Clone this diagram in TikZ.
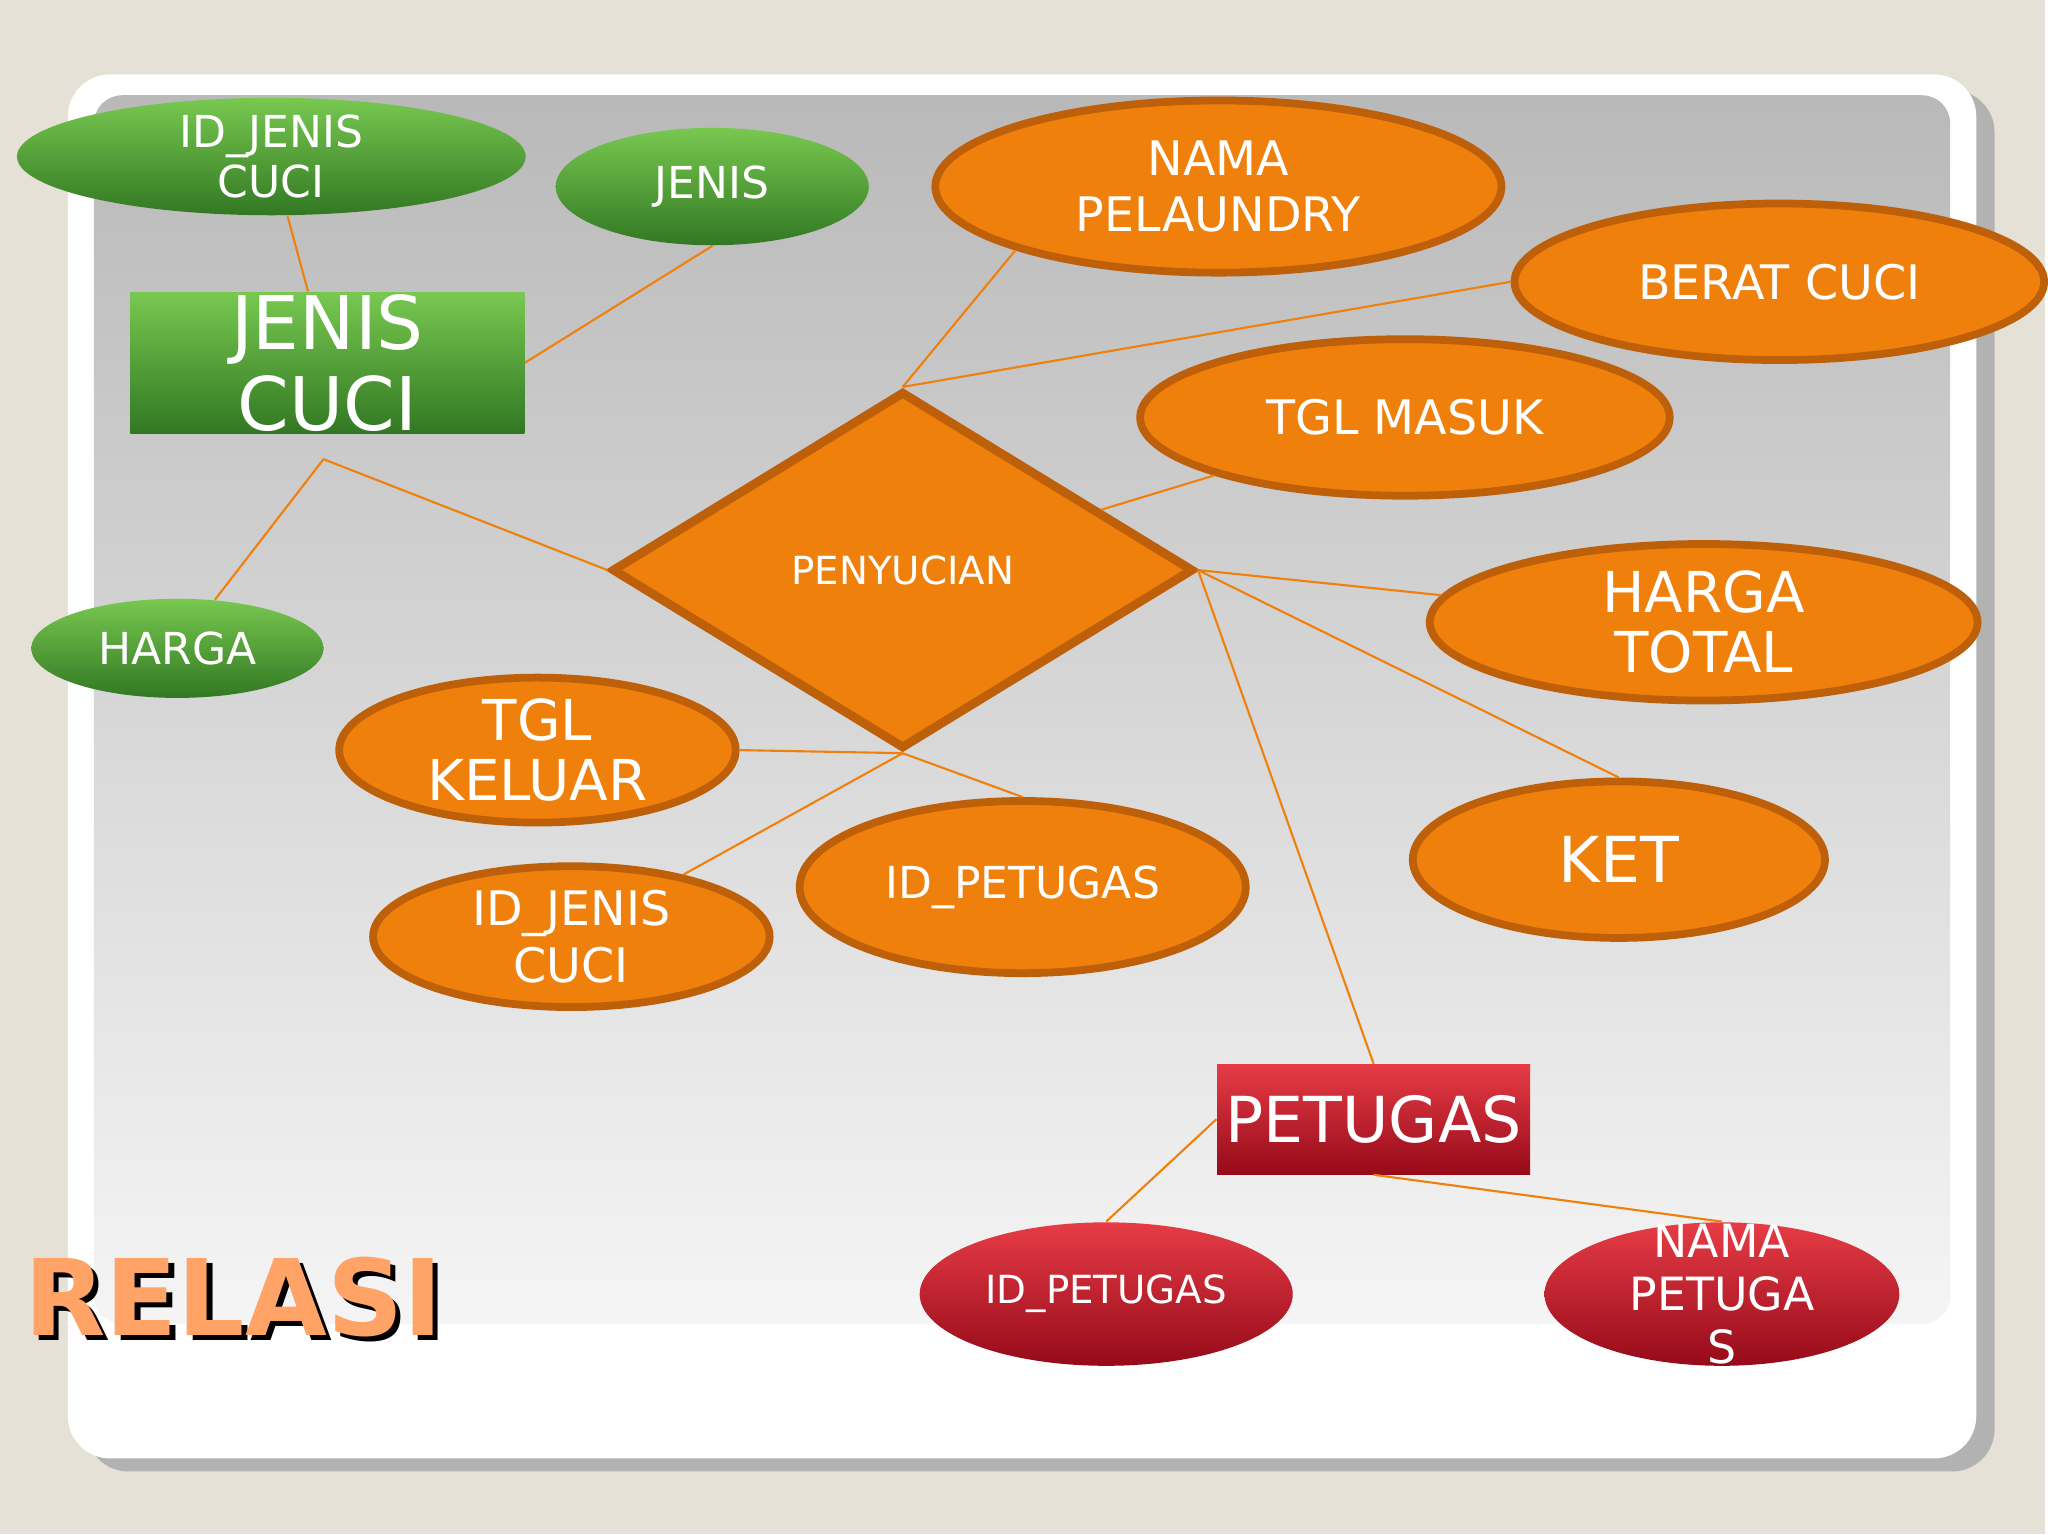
\documentclass[tikz,border=0pt]{standalone}
\usepackage{fontspec}
\setmainfont{DejaVu Sans}
\usetikzlibrary{shapes.geometric,positioning}
\definecolor{bgbeige}{RGB}{229,225,214}
\definecolor{erorange}{RGB}{240,128,12}
\definecolor{erorangedk}{RGB}{190,95,10}
\definecolor{ergreen}{RGB}{80,160,50}
\definecolor{ergreenlt}{RGB}{120,200,80}
\definecolor{ergreendk}{RGB}{50,120,35}
\definecolor{erred}{RGB}{200,20,40}
\definecolor{erredlt}{RGB}{230,60,70}
\definecolor{erreddk}{RGB}{150,10,25}
\tikzset{
  sz/.style 2 args={minimum width=#1*0.7406pt, minimum height=#2*0.7406pt},
  attr/.style={ellipse, draw=erorangedk, line width=2.2pt, fill=erorange, text=white, align=center, inner sep=0pt, font=\fontsize{13.5}{16}\selectfont},
  gattr/.style={ellipse, top color=ergreenlt, bottom color=ergreendk, text=white, align=center, inner sep=0pt, font=\fontsize{12.5}{14}\selectfont},
  rattr/.style={ellipse, top color=erredlt, bottom color=erreddk, text=white, align=center, inner sep=0pt},
  entity/.style={rectangle, text=white, align=center, inner sep=0pt},
  link/.style={erorange, line width=0.6pt}
}
\begin{document}
\begin{tikzpicture}[x=0.3703pt, y=-0.3703pt]
    % slide background
    \fill[bgbeige] (0,0) rectangle (1568,1176);
    \fill[gray!60, rounded corners=12pt] (66,69) rectangle (1529,1128);
    \fill[white, rounded corners=12pt] (52,57) rectangle (1515,1118);
    \shade[top color=gray!55, bottom color=gray!8, rounded corners=8pt] (72,73) rectangle (1495,1015);

    % Jenis cuci
    \node[entity, top color=ergreenlt, bottom color=ergreendk, sz={151}{54}, font=\fontsize{21}{23}\selectfont] (jenisCuci) at (251,278) {JENIS\\CUCI};
    \node[gattr, sz={195}{45}] (idJenis) at (208,120) {ID\_JENIS\\CUCI};
    \node[gattr, sz={120}{45}] (jenis) at (546,143) {JENIS};
    \node[gattr, sz={112}{38}] (harga) at (136,497) {HARGA};
    \coordinate (hargaJoint) at (248,352);

    % Penyucian
    \node[diamond, draw=erorangedk, line width=2.5pt, fill=erorange, text=white, inner sep=0pt, sz={223}{137}, aspect=1.63, font=\fontsize{11}{13}\selectfont] (penyucian) at (692,437) {PENYUCIAN};
    \node[attr, sz={217}{66}] (namaLaundry) at (934,143) {NAMA\\PELAUNDRY};
    \node[attr, sz={203}{60}] (berat) at (1364,216) {BERAT CUCI};
    \node[attr, sz={203}{60}] (tglMasuk) at (1077,320) {TGL MASUK};
    \node[attr, sz={210}{60}, font=\fontsize{16}{17}\selectfont] (hargaTotal) at (1306,477) {HARGA\\TOTAL};
    \node[attr, sz={158}{60}, font=\fontsize{18}{21}\selectfont] (ket) at (1241,659) {KET};
    \node[attr, sz={152}{54}, font=\fontsize{16}{17}\selectfont] (tglKeluar) at (412,575) {TGL\\KELUAR};
    \node[attr, sz={152}{54}] (idJenis2) at (438,718) {ID\_JENIS\\CUCI};
    \node[attr, sz={171}{66}, font=\fontsize{12.5}{15}\selectfont] (idPetugas) at (784,680) {ID\_PETUGAS};

    % Petugas
    \node[entity, top color=erredlt, bottom color=erreddk, sz={120}{42}, font=\fontsize{18}{21}\selectfont] (petugas) at (1053,858) {PETUGAS};
    \node[rattr, sz={143}{55}, font=\fontsize{11}{13}\selectfont] (idPetugas2) at (848,992) {ID\_PETUGAS};
    \node[rattr, sz={136}{55}, inner sep=-8pt, font=\fontsize{13}{15}\selectfont] (namaPetugas) at (1320,992) {NAMA\\PETUGA\\S};

    % links
    \draw[link] (idJenis) -- (jenisCuci);
    \draw[link] (jenis.south) -- (jenisCuci.east);
    \draw[link] (harga) -- (hargaJoint) -- (penyucian.west);
    \draw[link] (namaLaundry.south west) -- (penyucian.north);
    \draw[link] (berat.west) -- (penyucian.north);
    \draw[link] (tglMasuk) -- (penyucian);
    \draw[link] (penyucian.east) -- (hargaTotal);
    \draw[link] (penyucian.east) -- (ket.north);
    \draw[link] (penyucian.east) -- (petugas.north);
    \draw[link] (tglKeluar.east) -- (penyucian.south);
    \draw[link] (penyucian.south) -- (idJenis2);
    \draw[link] (penyucian.south) -- (idPetugas.north);
    \draw[link] (petugas.west) -- (idPetugas2.north);
    \draw[link] (petugas.south) -- (namaPetugas.north);

    % title
    \node[text=black, font=\fontsize{30}{34}\bfseries] at (183,998) {RELASI};
    \node[text=orange!80!red!60, font=\fontsize{30}{34}\bfseries] (relasi) at (179,994) {RELASI};
\end{tikzpicture}
\end{document}
